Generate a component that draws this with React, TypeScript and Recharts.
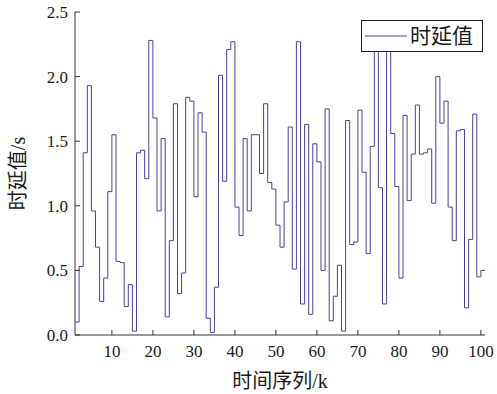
import React from 'react';
import { LineChart, Line, XAxis, YAxis, Legend } from 'recharts';

// sample index k (categories)
const timeIndex: number[] = Array.from({ length: 100 }, (_, i) => i + 1);

// delay value for each sample (s)
const delayValues: number[] = [
  0.10, 0.53, 1.41, 1.93, 0.96, 0.68, 0.26, 0.44, 1.11, 1.55,
  0.57, 0.56, 0.22, 0.39, 0.03, 1.41, 1.43, 1.21, 2.28, 1.68,
  0.96, 1.52, 0.14, 0.73, 1.79, 0.32, 0.48, 1.84, 1.81, 1.07,
  1.72, 1.57, 0.13, 0.02, 0.37, 2.01, 1.19, 2.21, 2.27, 0.99,
  0.77, 1.52, 0.96, 1.55, 1.55, 1.25, 1.79, 1.18, 1.13, 0.85,
  0.68, 1.03, 1.61, 0.51, 2.27, 0.24, 1.63, 0.16, 1.48, 1.34,
  0.50, 1.75, 0.11, 0.30, 0.54, 0.03, 1.66, 0.70, 0.72, 1.74,
  1.26, 0.63, 1.46, 2.35, 1.14, 0.24, 2.35, 1.56, 1.15, 0.44,
  1.70, 1.04, 1.40, 1.78, 1.40, 1.41, 1.44, 1.02, 2.00, 1.64,
  1.81, 0.99, 0.73, 1.58, 1.59, 0.21, 0.74, 1.71, 0.45, 0.50,
];

const xTicks: number[] = [10, 20, 30, 40, 50, 60, 70, 80, 90, 100];
const yTicks: number[] = [0, 0.5, 1, 1.5, 2, 2.5];
const seriesName = '时延值';
const xTitle = '时间序列/k';
const yTitle = '时延值/s';

const chartData = timeIndex.map((k, i) => ({ k, v: delayValues[i] }));
// closing edge of the final stair
chartData.push({ k: timeIndex[timeIndex.length - 1] + 1, v: delayValues[delayValues.length - 1] });

const SERIF = 'Liberation Serif, DejaVu Serif, Noto Sans CJK SC, serif';
const AXIS = '#333333';
const TEXT = '#1a1a1a';
const LINE = '#4b4294';

const XTick = ({ x, y, payload }: any) => (
  <g>
    <line x1={x} x2={x} y1={y} y2={y - 5} stroke={AXIS} strokeWidth={1} />
    <text x={x} y={y + 22} textAnchor="middle" fontSize={17} style={{ fontFamily: SERIF }} fill={TEXT}>
      {payload.value}
    </text>
  </g>
);

const YTick = ({ x, y, payload }: any) => (
  <g>
    <line x1={x} x2={x + 5} y1={y} y2={y} stroke={AXIS} strokeWidth={1} />
    <text x={x - 7} y={y} dy="0.35em" textAnchor="end" fontSize={17} style={{ fontFamily: SERIF }} fill={TEXT}>
      {Number(payload.value).toFixed(1)}
    </text>
  </g>
);

const LegendBox = () => (
  <div
    style={{
      width: 122,
      height: 32,
      border: '1px solid #222',
      background: '#fff',
      boxSizing: 'border-box',
      display: 'flex',
      alignItems: 'center',
    }}
  >
    <svg width={46} height={10} style={{ display: 'block' }}>
      <line x1={3} x2={45} y1={5} y2={5} stroke={LINE} strokeWidth={1} />
    </svg>
    <span style={{ fontFamily: SERIF, fontSize: 21, color: TEXT, marginLeft: 2, lineHeight: '24px' }}>
      {seriesName}
    </span>
  </div>
);

const YTitle = (props: any) => {
  const vb = props.viewBox || { y: 12, height: 323 };
  const cx = 18;
  const cy = vb.y + vb.height / 2;
  return (
    <text
      x={cx}
      y={cy}
      transform={`rotate(-90 ${cx} ${cy})`}
      textAnchor="middle"
      dominantBaseline="central"
      fontSize={20}
      style={{ fontFamily: SERIF }}
      fill={TEXT}
    >
      {yTitle}
    </text>
  );
};

export default function App() {
  return (
    <div style={{ position: 'absolute', left: 0, top: 0, width: 497, height: 394, background: '#fff' }}>
      <LineChart
        width={497}
        height={394}
        data={chartData}
        margin={{ top: 12, right: 12, left: 0, bottom: 0 }}
      >
        <XAxis
          dataKey="k"
          type="number"
          domain={[1, 101]}
          ticks={xTicks}
          interval={0}
          height={59}
          tickSize={0}
          tickMargin={0}
          tickLine={false}
          tick={<XTick />}
          axisLine={{ stroke: AXIS, strokeWidth: 1 }}
          label={{ value: xTitle, position: 'insideBottom', offset: 6, fontSize: 20, style: { fontFamily: SERIF }, fill: TEXT }}
        />
        <XAxis
          xAxisId="top"
          orientation="top"
          dataKey="k"
          type="number"
          domain={[1, 101]}
          height={0}
          tick={false}
          tickLine={false}
          axisLine={{ stroke: AXIS, strokeWidth: 1 }}
        />
        <YAxis
          type="number"
          domain={[0, 2.5]}
          ticks={yTicks}
          interval={0}
          width={75}
          tickSize={0}
          tickMargin={0}
          tickLine={false}
          tick={<YTick />}
          axisLine={{ stroke: AXIS, strokeWidth: 1 }}
          label={{ value: yTitle, content: <YTitle /> }}
        />
        <YAxis
          yAxisId="right"
          orientation="right"
          type="number"
          domain={[0, 2.5]}
          width={0}
          tick={false}
          tickLine={false}
          axisLine={{ stroke: AXIS, strokeWidth: 1 }}
        />
        <Legend
          content={<LegendBox />}
          verticalAlign="middle"
          align="center"
          layout="horizontal"
          wrapperStyle={{ position: 'absolute', left: 361, top: 20, width: 122, height: 32 }}
        />
        <Line
          type="stepAfter"
          dataKey="v"
          name={seriesName}
          stroke={LINE}
          strokeWidth={1}
          dot={false}
          activeDot={false}
          isAnimationActive={false}
        />
      </LineChart>
    </div>
  );
}
